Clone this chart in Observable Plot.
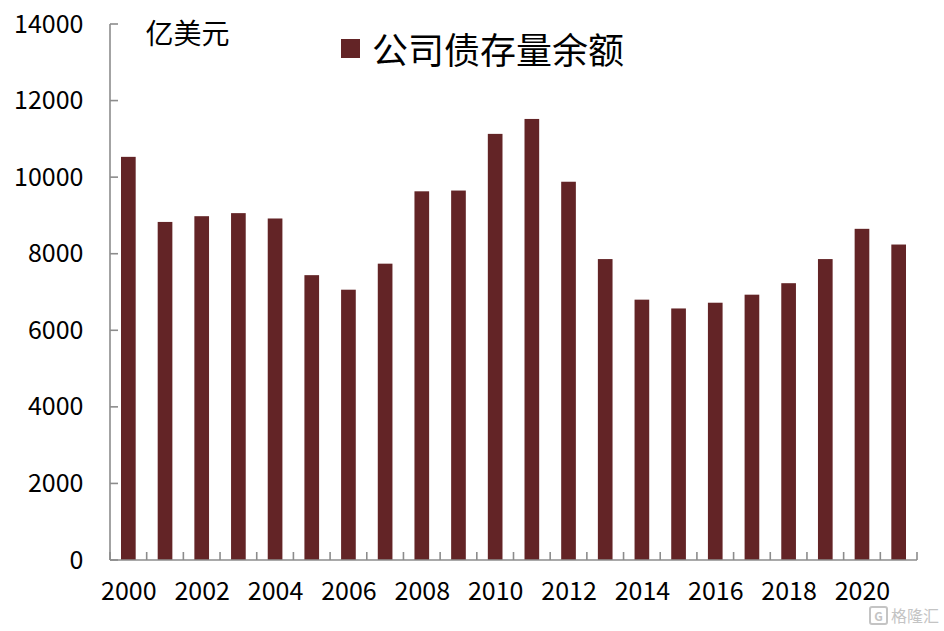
<!DOCTYPE html>
<html>
<head>
<meta charset="utf-8">
<script src="https://cdn.jsdelivr.net/npm/d3@7"></script>
<script src="https://cdn.jsdelivr.net/npm/@observablehq/plot@0.6"></script>
<style>
  html, body { margin: 0; padding: 0; background: #fff; }
  #wrap { position: relative; width: 944px; height: 631px; font-family: "Noto Sans CJK SC", "Microsoft YaHei", sans-serif; }
  #legend { position: absolute; left: 341px; top: 27px; height: 42px; display: flex; align-items: center; font-size: 36px; color: #000; }
  #legend .sw { width: 19px; height: 19px; background: #632426; margin-right: 12px; }
  #wm { position: absolute; left: 869px; top: 603px; font-size: 16px; color: #c4c4c4; display: flex; align-items: center; }
  #wm .g { width: 15px; height: 15px; border: 2px solid #c4c4c4; border-radius: 3px; font-size: 12px; line-height: 15px; text-align: center; margin-right: 3px; font-weight: bold; }
</style>
</head>
<body>
<div id="wrap"></div>
<script>
const years = [2000, 2001, 2002, 2003, 2004, 2005, 2006, 2007, 2008, 2009, 2010,
               2011, 2012, 2013, 2014, 2015, 2016, 2017, 2018, 2019, 2020, 2021];
const outstanding = [10530, 8830, 8980, 9060, 8920, 7440, 7060, 7740, 9630, 9650, 11130,
                     11520, 9880, 7860, 6800, 6570, 6720, 6930, 7230, 7860, 8650, 8240];
const yTicks = [0, 2000, 4000, 6000, 8000, 10000, 12000, 14000];
const xTickLabels = [2000, 2002, 2004, 2006, 2008, 2010, 2012, 2014, 2016, 2018, 2020];
const unitLabel = "亿美元";
const seriesName = "公司债存量余额";

const barColor = "#632426";
const axisColor = "#8c8c8c";
const data = years.map((year, i) => ({year, value: outstanding[i]}));

const plot = Plot.plot({
  width: 944,
  height: 631,
  marginLeft: 110,
  marginRight: 27,
  marginTop: 24,
  marginBottom: 71,
  style: {fontFamily: "'Noto Sans CJK SC', sans-serif", fontSize: "25px", color: "#000", background: "#fff", overflow: "visible"},
  x: {type: "band", domain: years, paddingInner: 0.6, paddingOuter: 0.3, round: false},
  y: {domain: [0, 14000]},
  marks: [
    Plot.barY(data, {x: "year", y: "value", fill: barColor}),
    Plot.axisY({ticks: yTicks, tickSize: 0, tickPadding: 27, tickFormat: d => String(d), fontSize: 25, label: null, fill: "#000"}),
    Plot.axisX({ticks: xTickLabels, tickSize: 0, tickPadding: 22, tickFormat: d => String(d), fontSize: 25, label: null, fill: "#000"}),
    Plot.text([unitLabel], {text: d => d, frameAnchor: "top-left", dx: 35, dy: 11, textAnchor: "start", lineAnchor: "middle", fontSize: 28, fill: "#000"})
  ]
});

// axis lines and inward ticks, derived from the plot's own scales
const xs = plot.scale("x");
const ys = plot.scale("y");
const y0 = ys.apply(0);
const yTop = ys.apply(14000);
const xL = xs.range[0];
const xR = xs.range[1];
const svg = d3.select(plot.tagName.toLowerCase() === "svg" ? plot : plot.querySelector("svg"));
const g = svg.append("g").attr("stroke", axisColor).attr("stroke-width", 1.6).attr("fill", "none");
// y axis line
g.append("line").attr("x1", xL).attr("x2", xL).attr("y1", yTop).attr("y2", y0);
// x axis line
g.append("line").attr("x1", xL).attr("x2", xR).attr("y1", y0).attr("y2", y0);
// y ticks (pointing right)
g.selectAll("line.yt").data(yTicks).join("line").attr("class", "yt")
  .attr("x1", xL).attr("x2", xL + 8)
  .attr("y1", d => ys.apply(d)).attr("y2", d => ys.apply(d));
// x ticks at band boundaries (pointing up)
const bounds = d3.range(years.length + 1).map(i => xL + i * xs.step);
g.selectAll("line.xt").data(bounds).join("line").attr("class", "xt")
  .attr("x1", d => d).attr("x2", d => d)
  .attr("y1", y0).attr("y2", y0 - 8);

const wrap = document.getElementById("wrap");
wrap.appendChild(plot);

const legend = document.createElement("div");
legend.id = "legend";
legend.innerHTML = `<span class="sw"></span><span>${seriesName}</span>`;
wrap.appendChild(legend);

const wm = document.createElement("div");
wm.id = "wm";
wm.innerHTML = `<span class="g">G</span><span>格隆汇</span>`;
wrap.appendChild(wm);
</script>
</body>
</html>
